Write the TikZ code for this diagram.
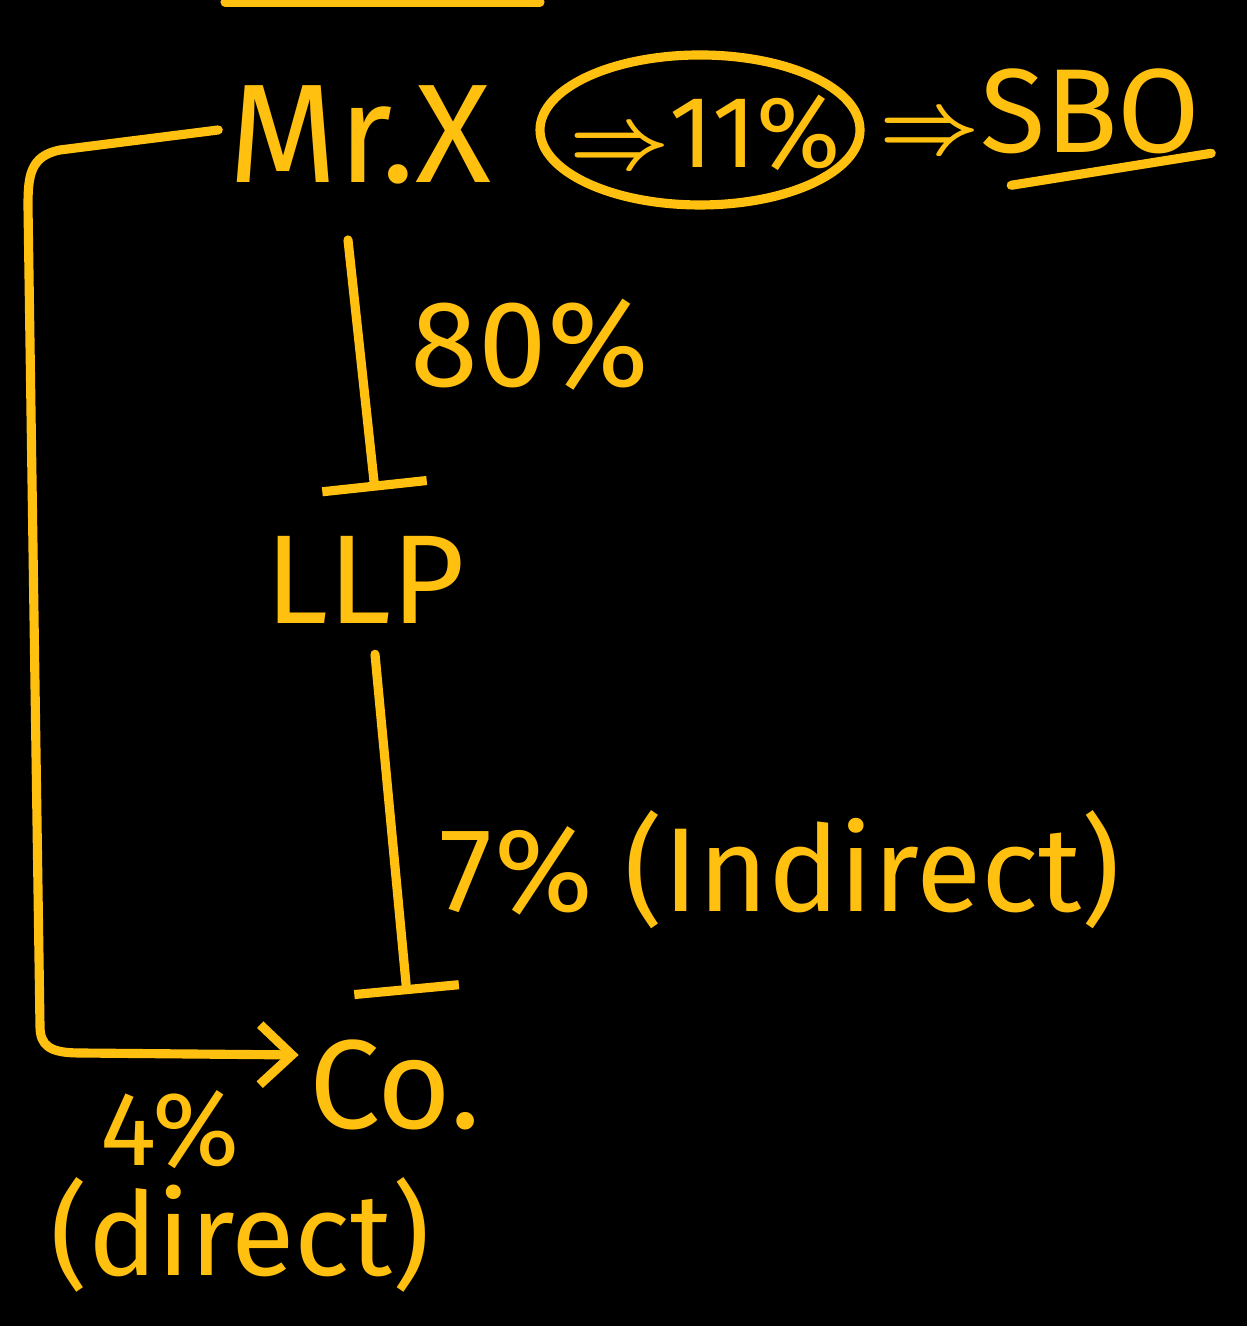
\documentclass[tikz,border=0pt]{standalone}
\usepackage{amsmath}
\usepackage{fontspec}
\setmainfont{Fira Sans}
\usepackage{xcolor}
\usepackage{tikz}
\usetikzlibrary{positioning,calc,arrows.meta}

\definecolor{ink}{RGB}{255,192,16}

\begin{document}
\begin{tikzpicture}[
    every node/.style={inner sep=0pt},
    hand/.style={text=ink},
    link/.style={draw=ink, line width=2.6pt, line cap=round, line join=round},
    stop/.style={link, -{Bar[width=1.05cm, line width=2.6pt]}},
    barb/.style={link, -{Straight Barb[length=0.32cm, width=0.6cm, line width=2.6pt]}},
]

% ---------------------------------------------------------------
% canvas
% ---------------------------------------------------------------
\fill[black] (0,0) rectangle (12.47,13.26);
\useasboundingbox (0,0) rectangle (12.47,13.26);

% cut-off stroke at the top edge
\draw[link] (2.25,13.24) -- (5.4,13.24);

% ---------------------------------------------------------------
% top row: Mr.X => 11% => SBO
% ---------------------------------------------------------------
\node[hand, font=\fontsize{40}{44}\selectfont] (mrx) at (3.6,11.91) {Mr.X};
\node[hand, font=\fontsize{29}{32}\selectfont] (share) at (7.05,11.93) {$\boldsymbol{\Rightarrow}$11\%};
\draw[link] (7.0,11.96) ellipse [x radius=1.6, y radius=0.75];
\node[hand, font=\fontsize{34}{38}\selectfont] (sbo) at (10.4,12.15) {$\boldsymbol{\Rightarrow}$SBO};
\draw[link] ([xshift=-1.9cm, yshift=-0.31cm]sbo.south east) -- ([xshift=0.1cm, yshift=0.01cm]sbo.south east);

% ---------------------------------------------------------------
% chain: Mr.X -> LLP -> Co.
% ---------------------------------------------------------------
\node[hand, font=\fontsize{36}{40}\selectfont] (llp) at (3.65,7.46) {LLP};
\node[hand, font=\fontsize{36}{40}\selectfont] (co) at (3.95,2.41) {Co.};

\draw[stop] ([xshift=-0.12cm, yshift=-0.55cm]mrx.south) -- ([xshift=0.1cm, yshift=0.45cm]llp.north);
\draw[stop] ([xshift=0.1cm, yshift=-0.3cm]llp.south) -- ([xshift=0.12cm, yshift=0.45cm]co.north);

\node[hand, font=\fontsize{35}{38}\selectfont] (p80) at (5.3,9.81) {80\%};
\node[hand, font=\fontsize{34}{38}\selectfont] (p7) at (7.8,4.56) {7\% (Indirect)};

% direct holding along the left side
\draw[barb] ([xshift=-0.1cm, yshift=0.05cm]mrx.west) -- (0.6,11.76)
    .. controls (0.3,11.7) and (0.28,11.5) .. (0.28,11.2)
    -- (0.4,3.0)
    .. controls (0.4,2.8) and (0.5,2.73) .. (0.8,2.73)
    -- ([xshift=-0.1cm, yshift=0.3cm]co.west);

\node[hand, font=\fontsize{30}{34}\selectfont] (p4) at (1.7,1.96) {4\%};
\node[hand, font=\fontsize{33}{36}\selectfont] (direct) at (2.4,0.91) {(direct)};

\end{tikzpicture}
\end{document}
